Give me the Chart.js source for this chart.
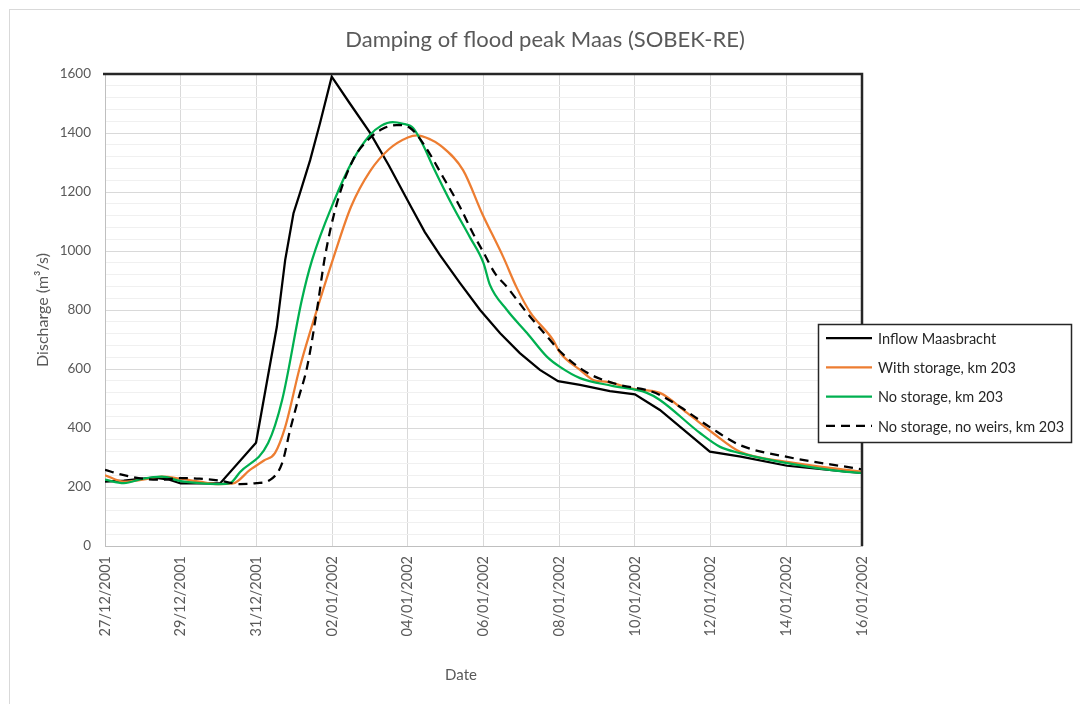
<!DOCTYPE html>
<html>
<head>
<meta charset="utf-8">
<title>Damping of flood peak Maas (SOBEK-RE)</title>
<script src="https://cdn.jsdelivr.net/npm/chart.js@4.4.0/dist/chart.umd.min.js"></script>
<style>
  html, body { margin: 0; padding: 0; background: #ffffff; }
  #wrap { width: 1080px; height: 704px; position: relative; }
</style>
</head>
<body>
<div id="wrap"><canvas id="chart" width="1080" height="704"></canvas></div>
<script>
// Time axis: days since 27/12/2001 00:00
const dateLabels = ['27/12/2001', '29/12/2001', '31/12/2001', '02/01/2002', '04/01/2002', '06/01/2002',
                    '08/01/2002', '10/01/2002', '12/01/2002', '14/01/2002', '16/01/2002'];

const seriesNames = ['Inflow Maasbracht', 'With storage, km 203', 'No storage, km 203', 'No storage, no weirs, km 203'];

// Inflow Maasbracht (m3/s)
const inflowDays = [0, 0.5, 1.0, 1.3, 1.7, 2.0, 2.5, 3.04, 3.99, 4.27, 4.54, 4.76, 4.98, 5.15, 5.42, 5.68, 5.99,
                    6.47, 7.0, 7.5, 8.06, 8.45, 8.85, 9.38, 9.91, 10.44, 10.96, 11.49, 11.97, 12.55, 13.34, 14.0,
                    14.66, 15.98, 16.8, 18.02, 19.6, 20.0];
const inflowQ =    [218, 222, 228, 232, 225, 212, 212, 212, 350, 551, 743, 969, 1128, 1196, 1308, 1433, 1591,
                    1500, 1401, 1290, 1156, 1064, 986, 891, 800, 721, 654, 597, 559, 546, 525, 514,
                    461, 320, 303, 272, 252, 248];

// With storage, km 203
const storageDays = [0, 0.5, 1.0, 1.5, 2.0, 2.5, 3.0, 3.38, 3.83, 4.2, 4.49, 4.76, 5.15, 5.68, 6.03, 6.5, 7.0,
                     7.5, 8.0, 8.25, 8.6, 8.85, 9.46, 9.96, 10.52, 10.88, 11.23, 11.84, 12.02, 12.55, 12.9, 13.26,
                     14.0, 14.66, 15.38, 16.06, 16.78, 18.02, 19.6, 20.0];
const storageQ =    [240, 218, 225, 235, 228, 218, 210, 212, 258, 290, 315, 403, 607, 834, 975, 1150, 1270,
                     1345, 1385, 1392, 1378, 1359, 1274, 1128, 980, 875, 793, 698, 656, 597, 563, 556,
                     532, 519, 451, 383, 319, 285, 258, 252];

// No storage, km 203
const noStorageDays = [0, 0.5, 1.0, 1.5, 2.0, 2.5, 3.0, 3.3, 3.57, 4.31, 4.68, 5.2, 5.47, 6.03, 6.55, 7.0, 7.3,
                       7.6, 7.85, 8.14, 8.4, 8.67, 9.2, 9.64, 10.0, 10.17, 10.62, 11.15, 11.68, 12.02, 12.55, 13.4,
                       14.3, 14.66, 15.72, 16.25, 16.78, 18.02, 19.6, 20.0];
const noStorageQ =    [225, 213, 228, 235, 220, 213, 210, 213, 251, 349, 495, 834, 969, 1163, 1308, 1393, 1425,
                       1437, 1432, 1417, 1360, 1285, 1149, 1047, 959, 885, 800, 722, 641, 607, 569, 543,
                       520, 495, 383, 336, 315, 281, 251, 248];

// No storage, no weirs, km 203
const noWeirsDays = [0, 0.5, 1.0, 1.5, 2.0, 2.5, 3.0, 3.57, 4.0, 4.36, 4.68, 4.89, 5.1, 5.34, 5.6, 5.81, 6.13,
                     6.55, 7.0, 7.35, 7.7, 8.06, 8.4, 8.93, 9.38, 9.72, 10.0, 10.3, 10.62, 11.15, 11.76, 12.02,
                     12.73, 13.6, 14.3, 14.66, 15.2, 15.98, 16.78, 18.02, 19.6, 20.0];
const noWeirsQ =    [258, 240, 228, 225, 230, 228, 222, 210, 213, 224, 281, 393, 495, 607, 800, 980, 1163,
                     1308, 1383, 1415, 1427, 1417, 1366, 1251, 1149, 1060, 995, 925, 878, 790, 698, 660,
                     588, 546, 529, 512, 471, 403, 342, 302, 268, 260];

const FONT = 'Lato, "Open Sans", sans-serif';
const GREY_TEXT = '#595959';

function toPoints(days, q) {
  return days.map((d, i) => ({ x: d, y: q[i] }));
}

// Frame, title and boxed legend drawn on top of the chart
const decorations = {
  id: 'decorations',
  afterDraw(chart) {
    const ctx = chart.ctx;
    const area = chart.chartArea;
    ctx.save();

    // outer chart border
    ctx.strokeStyle = '#d9d9d9';
    ctx.lineWidth = 1;
    ctx.strokeRect(9.5, 9.5, 1200, 900);

    // dark frame on top and right of the plot area
    ctx.strokeStyle = '#262626';
    ctx.lineWidth = 2.5;
    ctx.beginPath();
    ctx.moveTo(area.left - 2, area.top);
    ctx.lineTo(area.right, area.top);
    ctx.lineTo(area.right, area.bottom);
    ctx.stroke();

    // chart title
    ctx.fillStyle = GREY_TEXT;
    ctx.font = '22px ' + FONT;
    ctx.textAlign = 'center';
    ctx.textBaseline = 'middle';
    ctx.fillText('Damping of flood peak Maas (SOBEK-RE)', 545, 40);

    // x axis title
    ctx.font = '15px ' + FONT;
    ctx.fillText('Date', 461, 675);

    // legend
    const lx = 818, ly = 324, lw = 253, lh = 118;
    ctx.fillStyle = '#ffffff';
    ctx.fillRect(lx, ly, lw, lh);
    ctx.strokeStyle = '#262626';
    ctx.lineWidth = 1.5;
    ctx.strokeRect(lx + 0.5, ly + 0.5, lw, lh);
    chart.data.datasets.forEach((ds, i) => {
      const y = ly + 14 + i * 29.3;
      ctx.strokeStyle = ds.borderColor;
      ctx.lineWidth = ds.borderWidth;
      ctx.setLineDash(ds.borderDash || []);
      ctx.beginPath();
      ctx.moveTo(826, y);
      ctx.lineTo(872, y);
      ctx.stroke();
      ctx.setLineDash([]);
      ctx.fillStyle = '#262626';
      ctx.font = '14.5px ' + FONT;
      ctx.textAlign = 'left';
      ctx.textBaseline = 'middle';
      ctx.fillText(ds.label, 878, y + 1);
    });
    ctx.restore();
  }
};

new Chart(document.getElementById('chart'), {
  type: 'line',
  data: {
    datasets: [
      { label: seriesNames[0], data: toPoints(inflowDays, inflowQ), borderColor: '#000000',
        borderWidth: 2.25, tension: 0, order: 4 },
      { label: seriesNames[1], data: toPoints(storageDays, storageQ), borderColor: '#ED7D31',
        borderWidth: 2.25, cubicInterpolationMode: 'monotone', order: 3 },
      { label: seriesNames[2], data: toPoints(noStorageDays, noStorageQ), borderColor: '#00B050',
        borderWidth: 2.25, cubicInterpolationMode: 'monotone', order: 2 },
      { label: seriesNames[3], data: toPoints(noWeirsDays, noWeirsQ), borderColor: '#000000',
        borderWidth: 2.25, borderDash: [9, 6], cubicInterpolationMode: 'monotone', order: 1 }
    ]
  },
  options: {
    responsive: false,
    devicePixelRatio: 1,
    animation: false,
    events: [],
    elements: { point: { radius: 0 }, line: { fill: false, borderCapStyle: 'butt' } },
    layout: { padding: { left: 9, right: 218, top: 74, bottom: 0 } },
    plugins: {
      legend: { display: false },
      title: { display: false },
      tooltip: { enabled: false }
    },
    scales: {
      x: {
        type: 'linear',
        min: 0,
        max: 20,
        afterFit(scale) { scale.height = 158; },
        ticks: {
          stepSize: 2,
          autoSkip: false,
          minRotation: 90,
          maxRotation: 90,
          padding: 10,
          color: GREY_TEXT,
          font: { family: FONT, size: 14.5 },
          callback: (v) => dateLabels[Math.round(v / 2)]
        },
        grid: { color: '#d9d9d9', lineWidth: 1, drawTicks: false },
        border: { color: '#bfbfbf', width: 1 }
      },
      y: {
        min: 0,
        max: 1600,
        afterFit(scale) { scale.width = 96; },
        ticks: {
          stepSize: 40,
          maxTicksLimit: 60,
          autoSkip: false,
          padding: 14,
          color: GREY_TEXT,
          font: { family: FONT, size: 13.5 },
          callback: (v) => (v % 200 === 0 ? String(v) : '')
        },
        grid: {
          color: (c) => (c.tick && c.tick.value % 200 === 0 ? '#d9d9d9' : '#f0f0f0'),
          lineWidth: 1,
          drawTicks: false
        },
        border: { color: '#bfbfbf', width: 1 },
        title: {
          display: true,
          text: 'Discharge (m³/s)',
          color: GREY_TEXT,
          font: { family: FONT, size: 16 },
          padding: { top: 24, bottom: 0 }
        }
      }
    }
  },
  plugins: [decorations]
});
</script>
</body>
</html>
